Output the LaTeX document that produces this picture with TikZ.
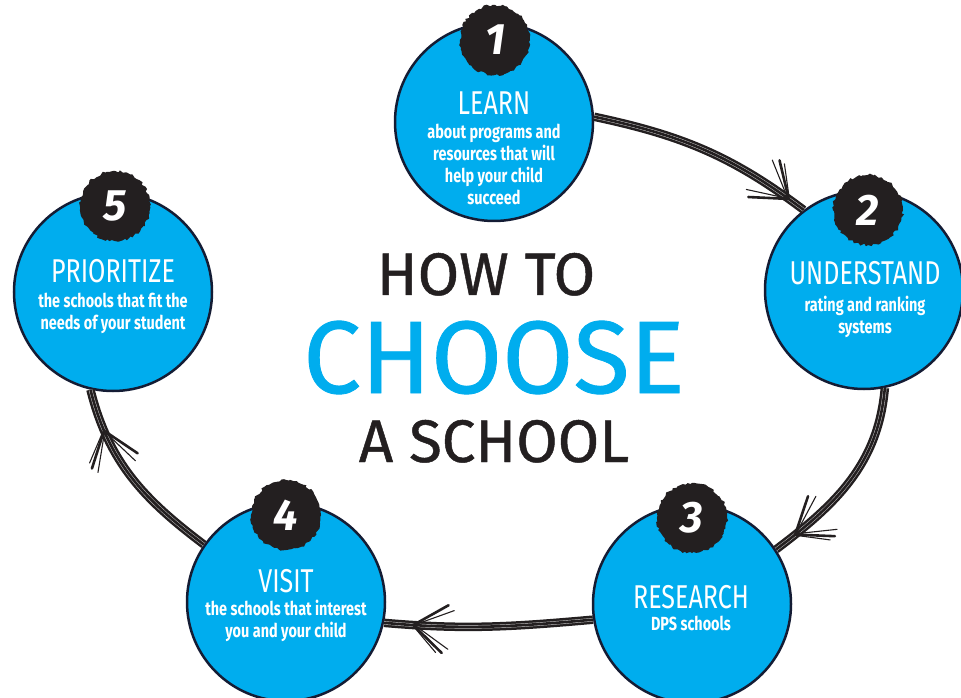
\documentclass[tikz,border=0pt]{standalone}
\usepackage{fontspec}
\setmainfont{Fira Sans}
\newfontfamily\condfont[FakeStretch=0.76]{Fira Sans}
\newfontfamily\titlefont[FakeBold=0.8]{Fira Sans}
\usepackage{tikz}
\usepackage{xcolor}
\usetikzlibrary{positioning, decorations.markings, decorations.pathmorphing}

\definecolor{stepblue}{RGB}{0,173,238}
\definecolor{rimblue}{RGB}{20,28,52}
\definecolor{inkgrey}{RGB}{35,31,32}

\tikzset{
    stage/.style={circle, draw=rimblue, line width=2.5pt, fill=stepblue, minimum size=198pt, inner sep=0pt},
    badge/.style={circle, fill=inkgrey, minimum size=70pt, inner sep=0pt, text=white,
        font=\bfseries\itshape\fontsize{44}{44}\selectfont,
        decorate, decoration={random steps, segment length=2.5pt, amplitude=1.3pt}},
    head/.style={text=white, inner sep=0pt, font=\condfont\fontsize{33}{33}\selectfont},
    blurb/.style={text=white, inner sep=0pt, align=center, font=\condfont\bfseries\fontsize{19}{22}\selectfont},
    bigword/.style={inner sep=0pt, anchor=base, text=inkgrey},
    brush/.style={draw=inkgrey, line width=8.5pt,
        postaction={draw=white!75!inkgrey, line width=0.45pt, double=inkgrey, double distance=2.6pt}},
    barb/.style={draw=inkgrey, line width=2.6pt, line cap=round},
    tipat/.style={postaction={decorate, decoration={markings, mark=at position #1 with {
        \draw[barb] (-30pt,26pt) -- (0,0) -- (-34pt,-22pt);
        \draw[barb, line width=1.1pt] (-36pt,22pt) -- (-3pt,1pt) (-40pt,-17pt) -- (-3pt,-1pt)
            (-24pt,26pt) -- (-2pt,3pt);}}}}
}

\begin{document}
\begin{tikzpicture}[x=1pt, y=1pt]
        \pgfmathsetseed{7}
        \useasboundingbox (0,0) rectangle (961,697);

        % the five steps
        \node[stage] (c1) at (494,575) {};
        \node[stage] (c2) at (864,407) {};
        \node[stage] (c3) at (692,93) {};
        \node[stage] (c4) at (286,95) {};
        \node[stage] (c5) at (113,405) {};

        \draw[brush, tipat=0.92] (c1.3) to[out=-12, in=143] (c2.127);
        \draw[brush, tipat=0.88] (c2.282) to[out=265, in=37] (c3.33);
        \draw[brush, tipat=0.86] (c3.189) to[out=185, in=-5] (c4.-12);
        \draw[brush, tipat=0.78] (c4.145) to[out=143, in=284] (c5.257);

        \node[badge] (b1) at (495,657) {1};
        \node[badge] (b2) at (868,487) {2};
        \node[badge] (b3) at (692,179) {3};
        \node[badge] (b4) at (286,182) {4};
        \node[badge] (b5) at (115,491) {5};

        \node[head, anchor=base] (h1) at (494,582) {LEARN};
        \node[blurb, below=9pt of h1.base] (s1) {about programs and\\resources that will\\help your child\\succeed};
        \node[head, anchor=base] (h2) at (865,412) {UNDERSTAND};
        \node[blurb, below=11pt of h2.base] (s2) {rating and ranking\\systems};
        \node[head, anchor=base] (h3) at (691,89) {RESEARCH};
        \node[blurb, below=8pt of h3.base] (s3) {DPS schools};
        \node[head, anchor=base] (h4) at (286,105) {VISIT};
        \node[blurb, below=8pt of h4.base] (s4) {the schools that interest\\you and your child};
        \node[head, anchor=base] (h5) at (113,414) {PRIORITIZE};
        \node[blurb, below=10pt of h5.base] (s5) {the schools that fit the\\needs of your student};

        % title
        \node[bigword, font=\titlefont\fontsize{60}{60}\selectfont] (how) at (486,402) {HOW TO};
        \node[bigword, text=stepblue, font=\titlefont\fontsize{103}{103}\selectfont] (choose) at (494,304) {CHOOSE};
        \node[bigword, font=\titlefont\fontsize{60}{60}\selectfont] (school) at (494,235) {A SCHOOL};
\end{tikzpicture}
\end{document}
